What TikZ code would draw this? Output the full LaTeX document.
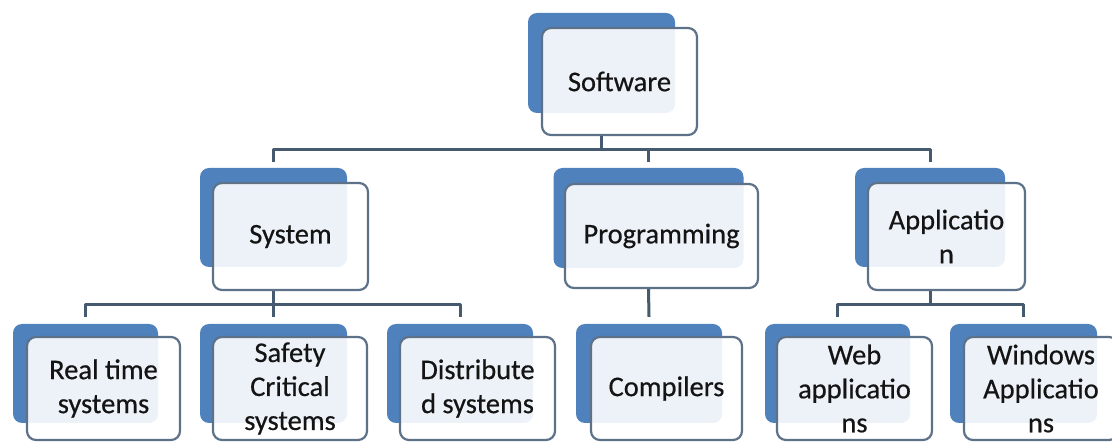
\documentclass[tikz,border=0pt]{standalone}
\usepackage{fontspec}
\setmainfont{Carlito}
\newfontfamily\cardfont{Carlito}[FakeBold=0.5]
\definecolor{cardblue}{HTML}{4F81BD}
\definecolor{cardline}{HTML}{5D7189}
\definecolor{linkcol}{HTML}{45596F}
\definecolor{cardtext}{HTML}{141414}
\tikzset{
  card/.style={draw=cardline, line width=2.2pt, rounded corners=9pt, fill=white,
    fill opacity=0.9, text opacity=1, align=center, inner sep=0pt, text=cardtext,
    font=\cardfont\fontsize{28.5}{34}\selectfont},
  backcard/.style={fill=cardblue, rounded corners=9pt, inner sep=0pt},
  link/.style={draw=linkcol, line width=3pt, line join=round}
}
\begin{document}
\begin{tikzpicture}[x=1pt, y=-1pt]
    \fill[white] (0,0) rectangle (1112,443);
    \useasboundingbox (0,0) rectangle (1112,443);
    \node[backcard, minimum width=147pt, minimum height=100pt] (soft-b) at (601.5,63) {};
    \node[backcard, minimum width=147pt, minimum height=99pt] (sys-b) at (273.5,217.5) {};
    \node[backcard, minimum width=190pt, minimum height=100pt] (prog-b) at (648.5,218) {};
    \node[backcard, minimum width=150pt, minimum height=99pt] (app-b) at (930,217.5) {};
    \node[backcard, minimum width=145pt, minimum height=99pt] (rt-b) at (85.5,373.5) {};
    \node[backcard, minimum width=147pt, minimum height=99pt] (safe-b) at (273.5,373.5) {};
    \node[backcard, minimum width=146pt, minimum height=99pt] (dist-b) at (460,373.5) {};
    \node[backcard, minimum width=146pt, minimum height=99pt] (comp-b) at (649,373.5) {};
    \node[backcard, minimum width=145pt, minimum height=99pt] (web-b) at (837.5,373.5) {};
    \node[backcard, minimum width=147pt, minimum height=99pt] (win-b) at (1023.5,373.5) {};
    \node[card, minimum width=155pt, minimum height=107pt] (soft) at (619.5,81.5) {Software};
    \node[card, minimum width=155pt, minimum height=107pt] (sys) at (290.5,236.5) {System};
    \node[card, minimum width=193pt, minimum height=104pt] (prog) at (661.5,236) {Programming};
    \node[card, minimum width=157pt, minimum height=107pt] (app) at (946.5,236.5) {Applicatio\\n};
    \node[card, minimum width=153pt, minimum height=103pt] (rt) at (103.5,388.5) {Real time\\systems};
    \node[card, minimum width=154pt, minimum height=103pt] (safe) at (290,388.5) {Safety\\Critical\\systems};
    \node[card, minimum width=155pt, minimum height=103pt] (dist) at (477.5,388.5) {Distribute\\d systems};
    \node[card, minimum width=151pt, minimum height=103pt] (comp) at (666.5,388.5) {Compilers};
    \node[card, minimum width=155pt, minimum height=103pt] (web) at (854.5,388.5) {Web\\applicatio\\ns};
    \node[card, minimum width=154pt, minimum height=103pt] (win) at (1041,388.5) {Windows\\Applicatio\\ns};
    \coordinate (topbus) at (601.5,150);
    \coordinate (sysbus) at (273.5,305);
    \coordinate (appbus) at (930,305);
    \draw[link] (soft-b.south |- soft.south) -- (topbus);
    \draw[link] ([yshift=6pt]sys-b.north) |- (topbus) -| ([yshift=6pt]app-b.north);
    \draw[link] (topbus -| prog-b.north) -- ([yshift=6pt]prog-b.north);
    \draw[link] (sys-b.south |- sys.south) -- (sysbus);
    \draw[link] ([yshift=7pt]rt-b.north) |- (sysbus) -| ([yshift=7pt]dist-b.north);
    \draw[link] (sysbus) -- ([yshift=7pt]safe-b.north);
    \draw[link] (prog-b.south |- prog.south) -- ([yshift=7pt]comp-b.north);
    \draw[link] (app-b.south |- app.south) -- (appbus);
    \draw[link] ([yshift=7pt]web-b.north) |- (appbus) -| ([yshift=7pt]win-b.north);
\end{tikzpicture}
\end{document}
